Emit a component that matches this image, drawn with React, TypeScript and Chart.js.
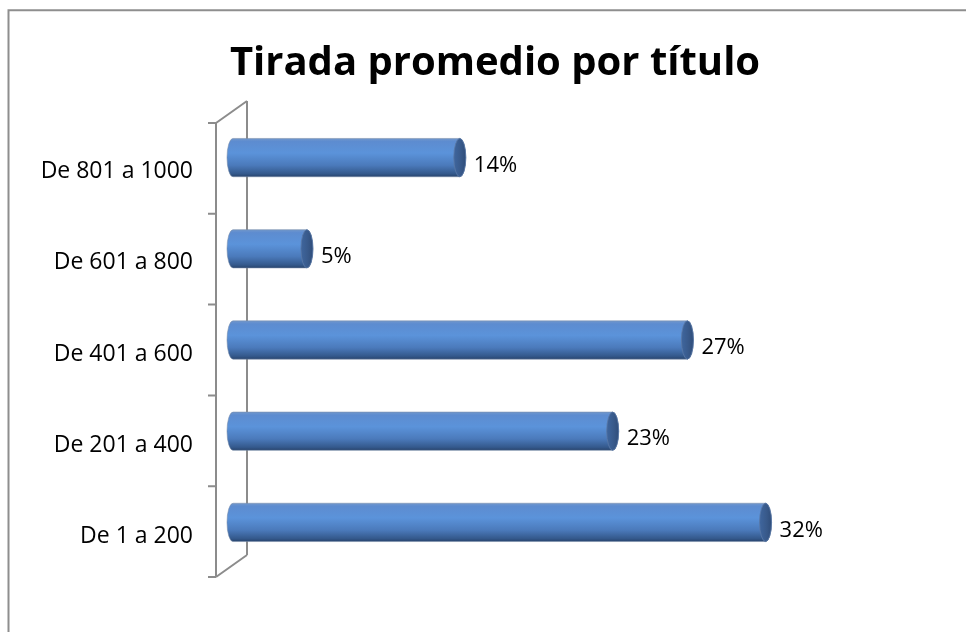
import React, { useEffect, useRef } from "react";
import { Chart, registerables } from "chart.js";

Chart.register(...registerables);

const TITLE = "Tirada promedio por título";
const CATEGORIES = ["De 801 a 1000", "De 601 a 800", "De 401 a 600", "De 201 a 400", "De 1 a 200"];
const VALUES = [14, 5, 27.4, 23, 32];
const X_MAX = 43.8;

const FONT = "'Open Sans', 'Noto Sans', 'Liberation Sans', sans-serif";

const framePlugin = {
  id: "frame3d",
  beforeDraw(chart: any) {
    const ctx = chart.ctx;
    ctx.save();
    ctx.fillStyle = "#ffffff";
    ctx.fillRect(0, 0, chart.width, chart.height);
    ctx.strokeStyle = "#8e8e8e";
    ctx.lineWidth = 2;
    ctx.beginPath();
    ctx.moveTo(8.5, chart.height + 2);
    ctx.lineTo(8.5, 10.3);
    ctx.lineTo(chart.width + 2, 10.3);
    ctx.stroke();
    ctx.restore();
  },
  beforeDatasetsDraw(chart: any) {
    const ctx = chart.ctx;
    const { left, top, bottom } = chart.chartArea;
    const fx = left - 6;
    const bx = left + 25;
    const fTop = top + 11;
    const fBot = bottom + 9;
    const dy = 22;
    const n = CATEGORIES.length;
    ctx.save();
    ctx.strokeStyle = "#8c8c8c";
    ctx.lineWidth = 2;
    ctx.beginPath();
    ctx.moveTo(fx, fTop);
    ctx.lineTo(fx, fBot);
    ctx.moveTo(bx, fTop - dy);
    ctx.lineTo(bx, fBot - dy);
    ctx.moveTo(fx, fTop);
    ctx.lineTo(bx, fTop - dy);
    ctx.moveTo(fx, fBot);
    ctx.lineTo(bx, fBot - dy);
    for (let i = 0; i <= n; i++) {
      const y = fTop + (i * (fBot - fTop)) / n;
      ctx.moveTo(fx - 8, y);
      ctx.lineTo(fx, y);
    }
    ctx.stroke();
    ctx.restore();
  },
  afterDatasetsDraw(chart: any) {
    const ctx = chart.ctx;
    const meta = chart.getDatasetMeta(0);
    const data = chart.data.datasets[0].data as number[];
    ctx.save();
    meta.data.forEach((bar: any, i: number) => {
      const { x, y, base, height } = bar.getProps(["x", "y", "base", "height"], true);
      const ry = height / 2;
      const rx = 6;
      const xl = base + 11;
      const xr = x;
      const topY = y - ry;
      const botY = y + ry;

      const g = ctx.createLinearGradient(0, topY, 0, botY);
      g.addColorStop(0, "#7197cc");
      g.addColorStop(0.08, "#5d8cd0");
      g.addColorStop(0.38, "#5b93da");
      g.addColorStop(0.7, "#4b7abb");
      g.addColorStop(0.92, "#34598c");
      g.addColorStop(1, "#28446d");

      ctx.beginPath();
      ctx.moveTo(xl, topY);
      ctx.lineTo(xr, topY);
      ctx.ellipse(xr, y, rx, ry, 0, -Math.PI / 2, Math.PI / 2);
      ctx.lineTo(xl, botY);
      ctx.ellipse(xl, y, rx, ry, 0, Math.PI / 2, (3 * Math.PI) / 2);
      ctx.closePath();
      ctx.fillStyle = g;
      ctx.fill();
      ctx.strokeStyle = "rgba(120,140,170,0.55)";
      ctx.lineWidth = 1;
      ctx.stroke();

      const cg = ctx.createLinearGradient(xr - rx, 0, xr + rx, 0);
      cg.addColorStop(0, "#3f669e");
      cg.addColorStop(0.6, "#38598a");
      cg.addColorStop(1, "#2f4d7a");
      ctx.beginPath();
      ctx.ellipse(xr, y, rx, ry, 0, 0, Math.PI * 2);
      ctx.fillStyle = cg;
      ctx.fill();
      ctx.strokeStyle = "rgba(90,120,165,0.8)";
      ctx.stroke();

      ctx.fillStyle = "#000000";
      ctx.font = `22px ${FONT}`;
      ctx.textAlign = "left";
      ctx.textBaseline = "middle";
      ctx.fillText(`${Math.round(data[i])}%`, xr + rx + 8, y + 8);
    });
    ctx.restore();
  },
};

export default function App() {
  const ref = useRef<HTMLCanvasElement | null>(null);

  useEffect(() => {
    if (!ref.current) return;
    const chart = new Chart(ref.current, {
      type: "bar",
      data: {
        labels: CATEGORIES,
        datasets: [
          {
            data: VALUES,
            backgroundColor: "rgba(0,0,0,0)",
            borderWidth: 0,
            categoryPercentage: 1,
            barPercentage: 0.42,
          },
        ],
      },
      options: {
        indexAxis: "y",
        responsive: false,
        animation: false,
        devicePixelRatio: 1,
        layout: { padding: { left: 24, right: 0, top: 0, bottom: 64 } },
        plugins: {
          legend: { display: false },
          tooltip: { enabled: false },
          title: {
            display: true,
            text: TITLE,
            color: "#000000",
            font: { family: FONT, size: 40, weight: "bold", lineHeight: 1.2 },
            padding: { top: 40, bottom: 24 },
          },
        },
        scales: {
          x: {
            type: "linear",
            display: false,
            min: 0,
            max: X_MAX,
          },
          y: {
            type: "category",
            grid: { display: false },
            border: { display: false },
            afterFit: (scale: any) => {
              scale.width = 198;
            },
            ticks: {
              color: "#000000",
              padding: 21,
              labelOffset: 14,
              font: { family: FONT, size: 23 },
            },
          },
        },
      } as any,
      plugins: [framePlugin],
    });
    return () => chart.destroy();
  }, []);

  return (
    <div style={{ position: "fixed", left: 0, top: 0, width: 966, height: 632, background: "#fff" }}>
      <canvas ref={ref} width={966} height={632} style={{ display: "block" }} />
    </div>
  );
}
